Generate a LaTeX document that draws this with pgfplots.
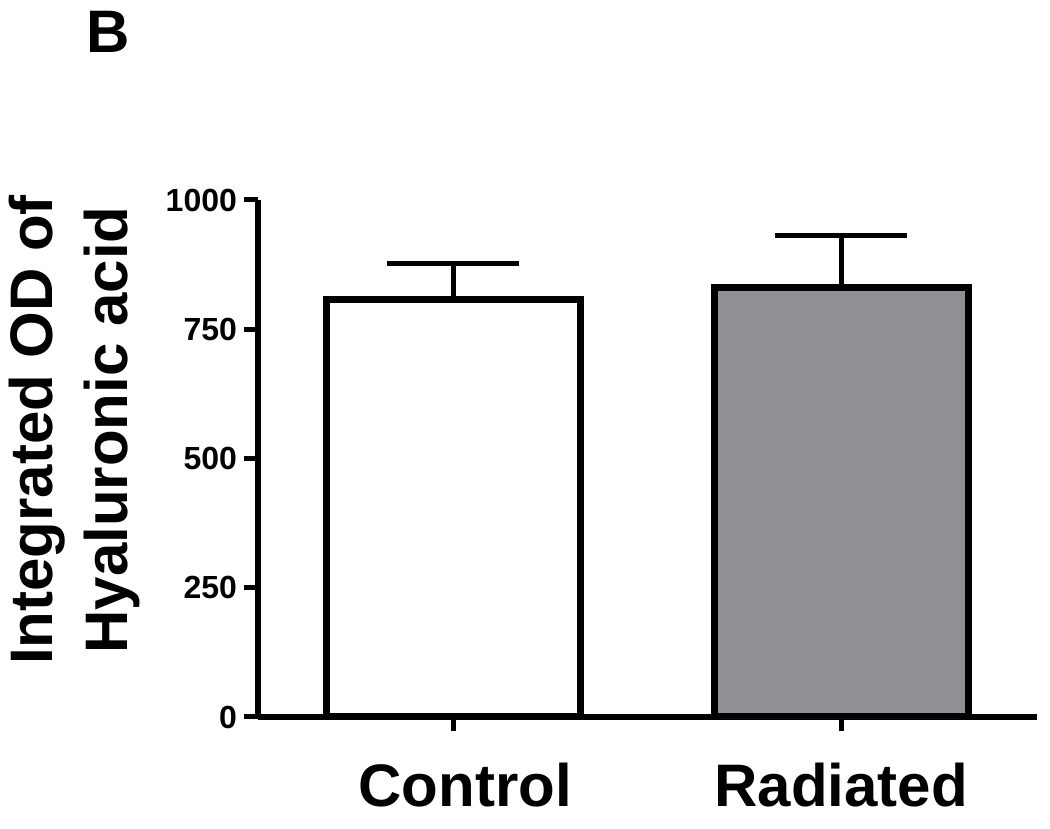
\documentclass[border=0pt]{standalone}
\usepackage{pgfplots}
\pgfplotsset{compat=1.18}
\usepackage{fontspec}
\setmainfont{Liberation Sans}
\definecolor{bargray}{RGB}{143,143,148}
\begin{document}
\begin{tikzpicture}
\path[use as bounding box] (0,0) rectangle (525pt,414.5pt);
\node[anchor=base west, inner sep=0pt, font=\bfseries\fontsize{30}{36}\selectfont] at (43pt,388pt) {B};
\node[rotate=90, anchor=base, inner sep=0pt, font=\bfseries\fontsize{30}{36}\selectfont] at (26.5pt,199.5pt) {Integrated OD of};
\node[rotate=90, anchor=base, inner sep=0pt, font=\bfseries\fontsize{30}{36}\selectfont] at (63.5pt,199.5pt) {Hyaluronic acid};
\begin{axis}[
  at={(129pt,56pt)}, anchor=south west,
  scale only axis, width=389.5pt, height=258.5pt,
  xmin=0.497, xmax=2.505, ymin=0, ymax=1000,
  axis x line*=bottom, axis y line*=left,
  axis line style={line width=3pt, black},
  ytick={0,250,500,750,1000},
  xtick={1,2},
  xticklabels={{\rule{12pt}{0pt}Control},{Radiated}},
  tick align=outside, major tick length=7pt,
  tick style={line width=2.5pt, black},
  minor tick num=0,
  /pgf/number format/assume math mode=true,
  /pgf/number format/1000 sep={},
  yticklabel style={font=\bfseries\fontsize{16}{19}\selectfont},
  xticklabel style={font=\bfseries\fontsize{30}{36}\selectfont, anchor=base, yshift=-38pt},
  ybar, bar width=0.655, bar shift=0pt,
  clip=false,
]
\addplot[ybar, draw=black, line width=3.5pt, fill=white,
  error bars/.cd, y dir=plus, y explicit, error mark=|,
  error bar style={line width=2.5pt, black},
  error mark options={line width=2.5pt, mark size=33pt, black}]
  coordinates {(1,807) +- (0,71)};
\addplot[ybar, draw=black, line width=3.5pt, fill=bargray,
  error bars/.cd, y dir=plus, y explicit, error mark=|,
  error bar style={line width=2.5pt, black},
  error mark options={line width=2.5pt, mark size=33pt, black}]
  coordinates {(2,831) +- (0,101)};
\end{axis}
\end{tikzpicture}
\end{document}
